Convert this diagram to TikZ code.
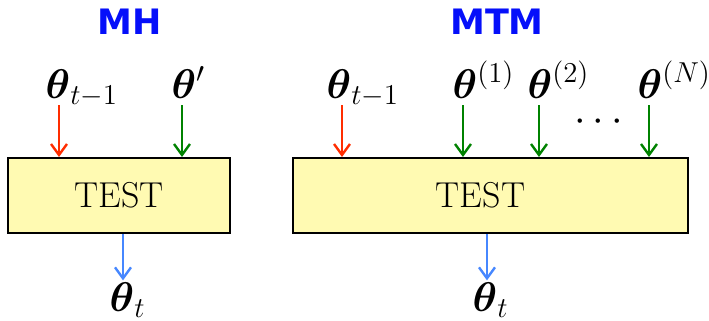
\documentclass[tikz,border=0pt]{standalone}
\usepackage{amsmath}
\usepackage{bm}
\usepackage{fontspec}
\newfontfamily\titlefont{DejaVu Sans}
\usetikzlibrary{arrows.meta}

\begin{document}
\begin{tikzpicture}[x=0.5pt, y=-0.5pt, thick,
    title/.style={font=\titlefont\bfseries\fontsize{17.5}{20}\selectfont, text=titleblue},
    testbox/.style={draw=black, fill=testyellow, line width=1pt, inner sep=0pt,
        minimum height=37.5pt, font=\fontsize{18}{20}\selectfont},
    lbl/.style={anchor=base, inner sep=1pt, font=\fontsize{19.5}{21}\selectfont},
    outlbl/.style={anchor=base, inner sep=0.5pt, font=\fontsize{19.5}{21}\selectfont},
    arr/.style={line width=1pt, -{Straight Barb[length=5.5pt, width=8pt, line width=1.2pt]}}]
    % colours
    \definecolor{titleblue}{RGB}{5, 15, 250}
    \definecolor{testyellow}{RGB}{255, 250, 178}
    \definecolor{oldred}{RGB}{255, 45, 0}
    \definecolor{candgreen}{RGB}{0, 130, 0}
    \definecolor{outblue}{RGB}{70, 135, 255}

    \useasboundingbox (0,0) rectangle (709,321);

    % MH
    \node[title] (mhtitle) at (130,22) {MH};
    \node[testbox, minimum width=111pt] (mhbox) at (119,195.5) {TEST};
    \node[lbl] (mhold) at (58,98) {$\bm{\theta}\rlap{$_{t-1}$}$};
    \node[lbl] (mhprop) at (184,98) {$\bm{\theta}\rlap{$'$}$};
    \node[outlbl] (mhout) at (122,311) {$\bm{\theta}\rlap{$_t$}$};
    \draw[arr, oldred] ([yshift=-3.5pt]mhold.base -| 59,0) -- (mhbox.north -| 59,0);
    \draw[arr, candgreen] ([yshift=-3.5pt]mhprop.base -| 182,0) -- (mhbox.north -| 182,0);
    \draw[arr, outblue] (mhbox.south -| 123,0) -- (mhout.north -| 123,0);

    % MTM
    \node[title] (mtmtitle) at (497,22) {MTM};
    \node[testbox, minimum width=197.5pt] (mtmbox) at (490.5,195.5) {\hspace*{-10pt}TEST};
    \node[lbl] (mtmold) at (339,98) {$\bm{\theta}\rlap{$_{t-1}$}$};
    \node[lbl] (cand1) at (465,98) {$\bm{\theta}\rlap{$^{(1)}$}$};
    \node[lbl] (cand2) at (540,98) {$\bm{\theta}\rlap{$^{(2)}$}$};
    \node[lbl] (candN) at (650,98) {$\bm{\theta}\rlap{$^{(N)}$}$};
    \node[font=\fontsize{19.5}{21}\selectfont] (dots) at (602,122) {$\cdots$};
    \node[outlbl] (mtmout) at (485,311) {$\bm{\theta}\rlap{$_t$}$};
    \draw[arr, oldred] ([yshift=-3.5pt]mtmold.base -| 342,0) -- (mtmbox.north -| 342,0);
    \draw[arr, candgreen] ([yshift=-3.5pt]cand1.base -| 463,0) -- (mtmbox.north -| 463,0);
    \draw[arr, candgreen] ([yshift=-3.5pt]cand2.base -| 539,0) -- (mtmbox.north -| 539,0);
    \draw[arr, candgreen] ([yshift=-3.5pt]candN.base -| 649,0) -- (mtmbox.north -| 649,0);
    \draw[arr, outblue] (mtmbox.south -| 487,0) -- (mtmout.north -| 487,0);
\end{tikzpicture}
\end{document}
